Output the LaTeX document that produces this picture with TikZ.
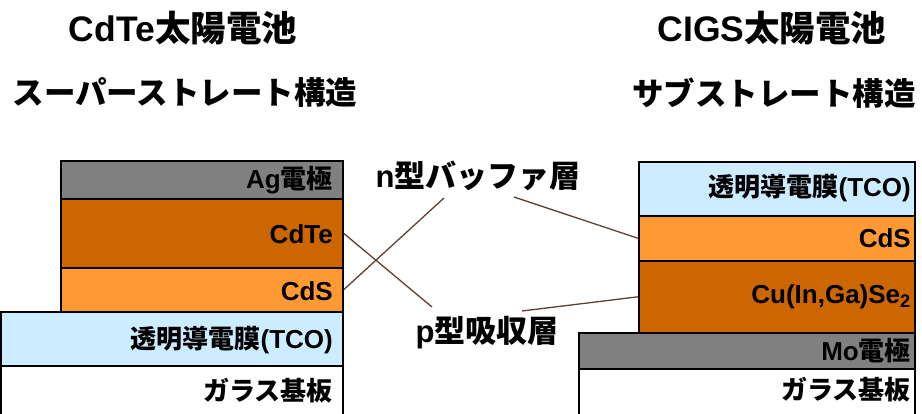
\documentclass[tikz,border=0pt]{standalone}
\usepackage{fontspec}
\setmainfont{Liberation Sans}
\newfontfamily\jp{Noto Sans CJK JP}
\definecolor{elecgray}{HTML}{808080}
\definecolor{absorb}{HTML}{CC6600}
\definecolor{buffer}{HTML}{FF9933}
\definecolor{tco}{HTML}{CCECFF}
\definecolor{conn}{HTML}{5A4232}
\tikzset{
  layer/.style={draw=black, line width=1.6pt, rectangle, inner sep=0pt, anchor=north west},
  lab/.style={font=\fontsize{26}{30}\selectfont\bfseries, anchor=east, inner sep=0pt},
  title/.style={font=\fontsize{35.5}{40}\selectfont\bfseries, inner sep=0pt},
  subtitle/.style={font=\fontsize{31.5}{36}\selectfont\bfseries, inner sep=0pt},
  callout/.style={font=\fontsize{31}{36}\selectfont\bfseries, inner sep=0pt},
  connector/.style={draw=conn, line width=1.3pt}
}
\begin{document}
\begin{tikzpicture}[x=1pt,y=-1pt]
\useasboundingbox (0,0) rectangle (922,414);
% titles
\node[title] (t1) at (183,28) {CdTe{\jp 太陽電池}};
\node[title] (t2) at (772,28) {CIGS{\jp 太陽電池}};
\node[subtitle] (s1) at (185,93) {\jp スーパーストレート構造};
\node[subtitle] (s2) at (774,93) {\jp サブストレート構造};
% left stack (superstrate)
\node[layer, fill=white, minimum width=342pt, minimum height=60pt] (lglass) at (0,365) {};
\node[layer, fill=tco, minimum width=342pt, minimum height=54pt] (ltco) at (0,311) {};
\node[layer, fill=buffer, minimum width=282pt, minimum height=44pt] (lcds) at (60,267) {};
\node[layer, fill=absorb, minimum width=282pt, minimum height=69pt] (lcdte) at (60,198) {};
\node[layer, fill=elecgray, minimum width=282pt, minimum height=38pt] (lag) at (60,160) {};
\node[lab] (lagt) at (333,180) {Ag{\jp 電極}};
\node[lab] (lcdtet) at (333,234) {CdTe};
\node[lab] (lcdst) at (333,291) {CdS};
\node[lab] (ltcot) at (333,340) {{\jp 透明導電膜}(TCO)};
\node[lab] (lglasst) at (333,391) {\jp ガラス基板};
% right stack (substrate)
\node[layer, fill=white, minimum width=336pt, minimum height=60pt] (rglass) at (578,368) {};
\node[layer, fill=elecgray, minimum width=336pt, minimum height=36pt] (rmo) at (578,332) {};
\node[layer, fill=absorb, minimum width=276pt, minimum height=72pt] (rcigs) at (638,260) {};
\node[layer, fill=buffer, minimum width=276pt, minimum height=45pt] (rcds) at (638,215) {};
\node[layer, fill=tco, minimum width=276pt, minimum height=54pt] (rtco) at (638,161) {};
\node[lab] (rtcot) at (911,188) {{\jp 透明導電膜}(TCO)};
\node[lab] (rcdst) at (911,238) {CdS};
\node[lab] (rcigst) at (911,297) {Cu(In,Ga)Se\textsubscript{2}};
\node[lab] (rmot) at (911,351) {Mo{\jp 電極}};
\node[lab] (rglasst) at (911,390) {\jp ガラス基板};
% callouts
\node[callout] (nlab) at (478,176) {n{\jp 型バッファ層}};
\node[callout] (plab) at (487,333) {p{\jp 型吸収層}};
\coordinate (n1) at (444,198);
\coordinate (n2) at (514,197);
\coordinate (p1) at (432,307);
\coordinate (p2) at (522,311);
\draw[connector] (lcdte.east) -- (p1);
\draw[connector] (lcds.east) -- (n1);
\draw[connector] (n2) -- (rcds.west);
\draw[connector] (p2) -- (rcigs.west);
\end{tikzpicture}
\end{document}
